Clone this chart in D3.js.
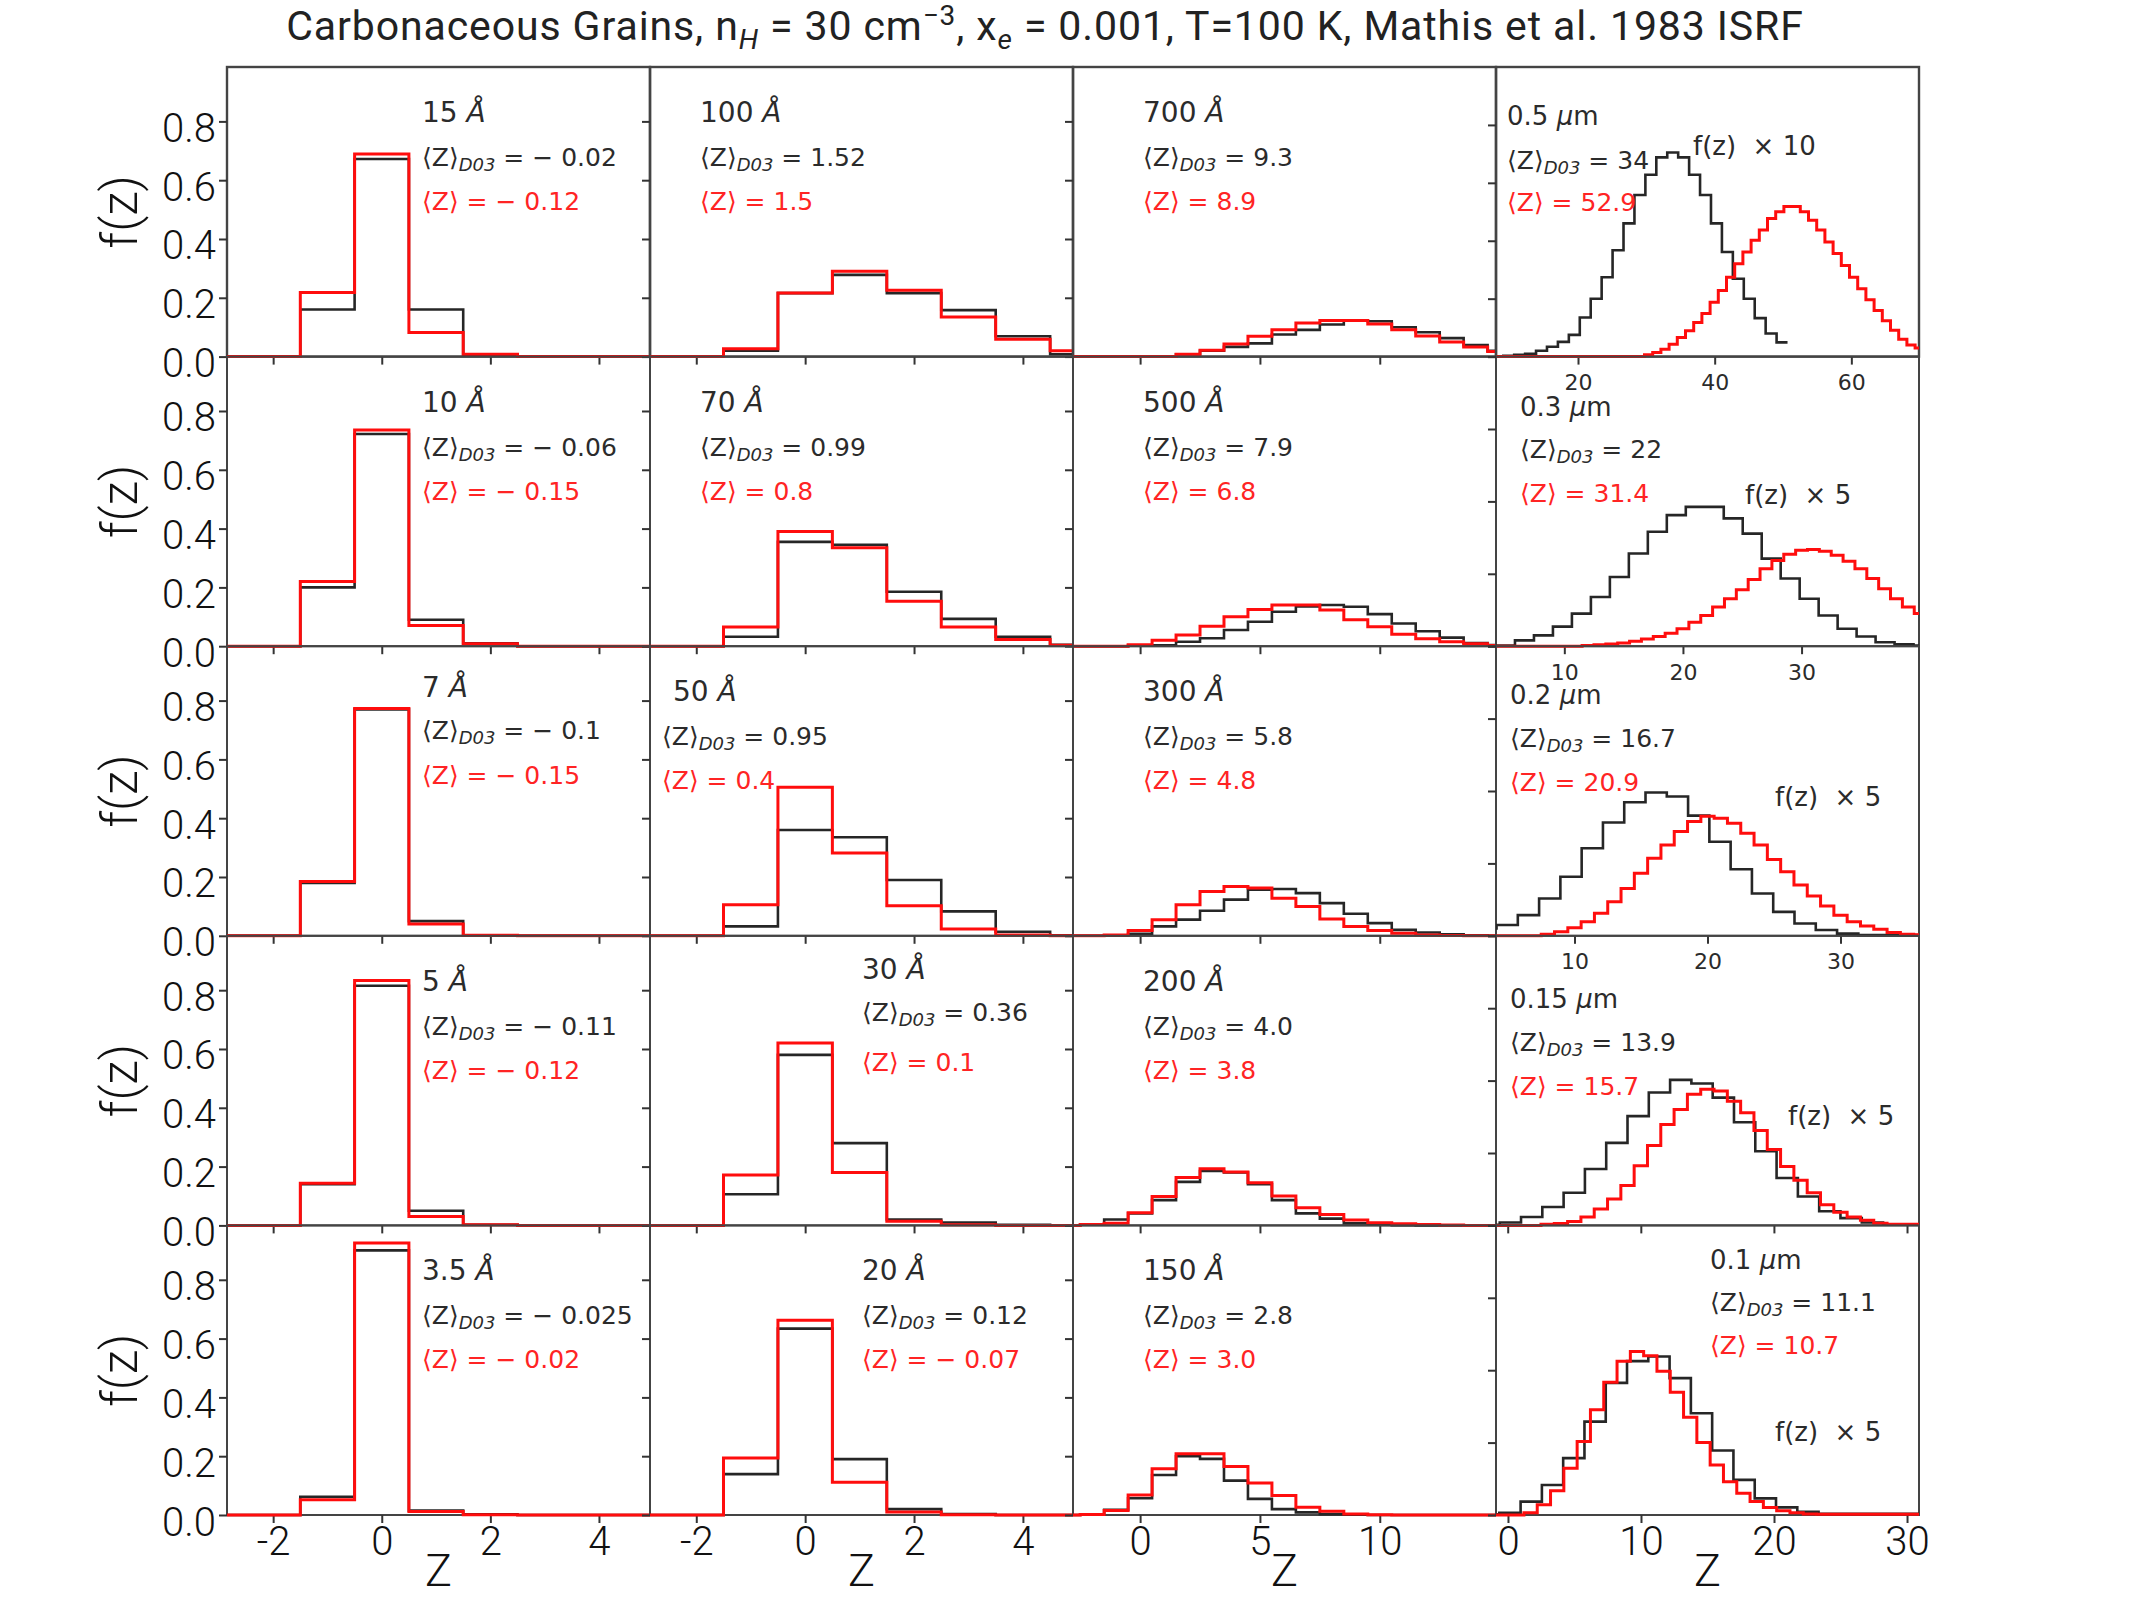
<!DOCTYPE html>
<html>
<head>
  <meta charset="UTF-8">
  <title>Carbonaceous Grains charge distributions</title>
  <script src="https://d3js.org/d3.v7.min.js"></script>
  <style>
    body { margin: 0; background: #fff; }
    text { white-space: pre; }
  </style>
</head>
<body>
<div id="chart"></div>
<script>
// ---- data, row-major (5 rows x 4 columns) ----
const grainSize = ["15", "100", "700", "0.5", "10", "70", "500", "0.3", "7", "50", "300", "0.2",
                   "5", "30", "200", "0.15", "3.5", "20", "150", "0.1"];
const meanD03 = ["− 0.02", "1.52", "9.3", "34", "− 0.06", "0.99", "7.9", "22", "− 0.1", "0.95", "5.8", "16.7",
                 "− 0.11", "0.36", "4.0", "13.9", "− 0.025", "0.12", "2.8", "11.1"];
const meanModel = ["− 0.12", "1.5", "8.9", "52.9", "− 0.15", "0.8", "6.8", "31.4", "− 0.15", "0.4", "4.8", "20.9",
                   "− 0.12", "0.1", "3.8", "15.7", "− 0.02", "− 0.07", "3.0", "10.7"];
const scaleNote = ["", "", "", "f(z)  × 10", "", "", "", "f(z)  × 5", "", "", "", "f(z)  × 5",
                   "", "", "", "f(z)  × 5", "", "", "", "f(z)  × 5"];

// histogram bins: left edge of first bin, bin width, bin heights
const d03Edge = [-3.5, -3.5, -3.5, 7.46, -3.5, -3.5, -3.5, 2.64, -3.5, -3.5, -3.5, 2.54,
                 -3.5, -3.5, -3.5, -2.2, -3.5, -3.5, -3.5, -2.25];
const d03Width = [1, 1, 1, 1.6, 1, 1, 1, 1.6, 1, 1, 1, 1.6, 1, 1, 1, 1.6, 1, 1, 1, 1.6];
const d03Values = [
  [0, 0, 0.16, 0.672, 0.16, 0.005, 0, 0, 0],
  [0, 0, 0.02, 0.216, 0.278, 0.216, 0.158, 0.069, 0.008],
  [0, 0, 0, 0, 0, 0.008, 0.02, 0.033, 0.045, 0.075, 0.091, 0.109, 0.123, 0.12, 0.1, 0.083, 0.063, 0.039, 0.02],
  [0.001, 0.003, 0.006, 0.01, 0.02, 0.034, 0.051, 0.075, 0.135, 0.2, 0.274, 0.367, 0.46, 0.558, 0.628, 0.688,
   0.705, 0.688, 0.628, 0.558, 0.46, 0.361, 0.269, 0.2, 0.133, 0.08, 0.049],
  [0, 0, 0.2, 0.722, 0.09, 0.01, 0, 0, 0],
  [0, 0, 0.032, 0.355, 0.345, 0.185, 0.093, 0.032, 0.005],
  [0, 0, 0, 0.002, 0.003, 0.015, 0.027, 0.055, 0.083, 0.117, 0.135, 0.14, 0.134, 0.109, 0.077, 0.051, 0.029, 0.011, 0.004],
  [0.001, 0.002, 0.016, 0.03, 0.054, 0.09, 0.136, 0.191, 0.256, 0.316, 0.362, 0.385, 0.385, 0.353, 0.311, 0.242,
   0.187, 0.131, 0.085, 0.048, 0.027, 0.011, 0.005, 0.002],
  [0, 0, 0.18, 0.77, 0.05, 0.002, 0, 0, 0],
  [0, 0, 0.032, 0.36, 0.335, 0.19, 0.083, 0.014, 0.002],
  [0, 0, 0.001, 0.007, 0.032, 0.055, 0.085, 0.123, 0.157, 0.159, 0.145, 0.111, 0.075, 0.043, 0.02, 0.011, 0.005, 0.002, 0],
  [0.02, 0.03, 0.057, 0.103, 0.163, 0.242, 0.313, 0.369, 0.396, 0.385, 0.332, 0.26, 0.184, 0.117, 0.066, 0.034,
   0.016, 0.006, 0.002, 0.002, 0.002, 0.002],
  [0, 0, 0.14, 0.815, 0.05, 0.002, 0, 0, 0],
  [0, 0, 0.106, 0.58, 0.28, 0.02, 0.01, 0.002, 0],
  [0, 0.003, 0.02, 0.041, 0.086, 0.148, 0.185, 0.18, 0.14, 0.086, 0.041, 0.023, 0.007, 0.003, 0.001, 0, 0, 0, 0],
  [0.002, 0.008, 0.023, 0.051, 0.09, 0.156, 0.228, 0.302, 0.367, 0.402, 0.392, 0.353, 0.285, 0.205, 0.131, 0.08,
   0.039, 0.02, 0.008, 0.002, 0.002],
  [0, 0, 0.062, 0.9, 0.015, 0.002, 0, 0, 0],
  [0, 0, 0.139, 0.634, 0.19, 0.02, 0.003, 0, 0],
  [0, 0.001, 0.018, 0.057, 0.136, 0.2, 0.191, 0.117, 0.055, 0.02, 0.009, 0.003, 0.001, 0, 0, 0, 0, 0, 0],
  [0.002, 0.006, 0.037, 0.083, 0.157, 0.258, 0.365, 0.425, 0.438, 0.378, 0.281, 0.178, 0.097, 0.046, 0.021, 0.009,
   0.003, 0.003, 0.003, 0.003, 0.003]
];

const modelEdge = [-3.5, -3.5, -3.5, 6.93, -3.5, -3.5, -3.5, 2.5, -3.5, -3.5, -3.5, 2.5,
                   -3.5, -3.5, -3.5, -1.5, -3.5, -3.5, -3.5, -1.8];
const modelWidth = [1, 1, 1, 1.2, 1, 1, 1, 1, 1, 1, 1, 1, 1, 1, 1, 1, 1, 1, 1, 1];
const modelValues = [
  [0, 0, 0.218, 0.689, 0.082, 0.008, 0, 0, 0],
  [0, 0, 0.027, 0.216, 0.29, 0.226, 0.135, 0.059, 0.02],
  [0, 0, 0, 0, 0, 0.008, 0.022, 0.043, 0.069, 0.091, 0.114, 0.123, 0.123, 0.111, 0.091, 0.07, 0.05, 0.033, 0.017],
  [0, 0, 0, 0, 0, 0, 0, 0, 0, 0, 0, 0, 0, 0, 0, 0, 0, 0, 0,
   0.006, 0.014, 0.025, 0.043, 0.066, 0.089, 0.118, 0.149, 0.188, 0.228, 0.274, 0.321, 0.361, 0.402, 0.437, 0.477,
   0.5, 0.518, 0.518, 0.5, 0.471, 0.437, 0.396, 0.356, 0.315, 0.274, 0.234, 0.196, 0.159, 0.124, 0.091, 0.06, 0.04, 0.03],
  [0, 0, 0.22, 0.735, 0.07, 0.008, 0, 0, 0],
  [0, 0, 0.065, 0.39, 0.335, 0.153, 0.065, 0.023, 0.003],
  [0, 0, 0, 0.005, 0.02, 0.038, 0.068, 0.1, 0.125, 0.14, 0.14, 0.123, 0.09, 0.066, 0.041, 0.025, 0.015, 0.008, 0.002],
  [0, 0, 0, 0, 0, 0, 0, 0, 0,
   0.002, 0.004, 0.006, 0.009, 0.014, 0.02, 0.027, 0.036, 0.048, 0.066, 0.085, 0.108, 0.131, 0.156, 0.184, 0.214,
   0.237, 0.254, 0.265, 0.267, 0.262, 0.251, 0.235, 0.214, 0.187, 0.159, 0.131, 0.108, 0.09],
  [0, 0, 0.185, 0.773, 0.04, 0.002, 0, 0, 0],
  [0, 0, 0.106, 0.505, 0.282, 0.102, 0.023, 0.003, 0],
  [0, 0, 0.003, 0.018, 0.055, 0.106, 0.151, 0.168, 0.163, 0.128, 0.1, 0.057, 0.032, 0.018, 0.009, 0.003, 0.001, 0, 0],
  [0, 0, 0, 0, 0,
   0.004, 0.011, 0.022, 0.039, 0.062, 0.094, 0.131, 0.173, 0.214, 0.251, 0.288, 0.316, 0.33, 0.325, 0.311, 0.283,
   0.251, 0.211, 0.177, 0.14, 0.11, 0.082, 0.057, 0.039, 0.027, 0.018, 0.009, 0.004, 0.003],
  [0, 0, 0.143, 0.833, 0.03, 0.002, 0, 0, 0],
  [0, 0, 0.171, 0.62, 0.18, 0.014, 0.002, 0, 0],
  [0, 0.003, 0.007, 0.043, 0.098, 0.163, 0.193, 0.182, 0.145, 0.1, 0.06, 0.0375, 0.018, 0.009, 0.006, 0.003, 0.001, 0, 0],
  [0, 0, 0, 0,
   0.003, 0.005, 0.011, 0.023, 0.045, 0.073, 0.11, 0.165, 0.221, 0.279, 0.32, 0.362, 0.376, 0.371, 0.343, 0.311,
   0.262, 0.21, 0.163, 0.125, 0.09, 0.057, 0.036, 0.023, 0.014, 0.006, 0.003, 0.003, 0.003],
  [0, 0, 0.052, 0.925, 0.012, 0.001, 0, 0, 0],
  [0, 0, 0.194, 0.662, 0.111, 0.01, 0.001, 0, 0],
  [0, 0.002, 0.015, 0.068, 0.157, 0.208, 0.208, 0.165, 0.109, 0.066, 0.026, 0.0125, 0.003, 0.001, 0, 0, 0, 0, 0],
  [0, 0, 0,
   0.006, 0.028, 0.067, 0.129, 0.203, 0.291, 0.367, 0.425, 0.452, 0.44, 0.397, 0.339, 0.27, 0.2, 0.138, 0.092,
   0.06, 0.037, 0.021, 0.012, 0.006, 0.003, 0.002, 0.002, 0.002, 0.002, 0.002, 0.002, 0.002, 0.002]
];

// axis ranges and ticks
const xDomainCols = [[-2.85, 4.94], [-2.85, 4.92], [-2.8, 14.85]];
const xDomainCol4 = [[8.0, 69.9], [4.24, 39.9], [4.1, 35.9], [-0.88, 30.9], [-0.9, 30.9]];
const yTopCols = 0.985;
const yTopCol4 = [1.0, 0.8, 0.8, 0.8, 0.8];
const xTicksCols = [[-2, 0, 2, 4], [-2, 0, 2, 4], [0, 5, 10]];
const xTicksCol4 = [[20, 40, 60], [10, 20, 30], [10, 20, 30], [0, 10, 20, 30], [0, 10, 20, 30]];
const yTicks = [0, 0.2, 0.4, 0.6, 0.8];

// ---- layout ----
const W = 2134, H = 1600;
const left0 = 227, top0 = 67, panelW = 423, panelH = 289.6;
const textDx = [195, 50, 70, 11, 195, 50, 70, 24, 195, 23, 70, 14, 195, 212, 70, 14, 195, 212, 70, 214];
const meanDx = [195, 50, 70, 11, 195, 50, 70, 24, 195, 12, 70, 14, 195, 212, 70, 14, 195, 212, 70, 214];
const textBase = [
  [55, 99, 143], [55, 99, 143], [55, 99, 143], [58, 102, 144],
  [55, 99, 143], [55, 99, 143], [55, 99, 143], [59, 101, 145],
  [51, 93, 138], [55, 99, 143], [55, 99, 143], [58, 101, 145],
  [55, 99, 143], [43, 85, 135], [55, 99, 143], [72, 115, 159],
  [55, 99, 143], [55, 99, 143], [55, 99, 143], [44, 86, 129]
];
const notePos = [[197, 88], [249, 147], [279, 160], [292, 189], [279, 216]];

const panelFont = "'DejaVu Sans', sans-serif";
const axisFont = "Roboto, 'Liberation Sans', sans-serif";
const darkText = "#2b2b2b", redText = "#ff2424";

const svg = d3.select("#chart").append("svg")
  .attr("width", W)
  .attr("height", H)
  .style("background", "#fff");

// title
const title = svg.append("text")
  .attr("x", 1045)
  .attr("y", 40)
  .attr("text-anchor", "middle")
  .style("font-family", axisFont)
  .style("font-size", "41px")
  .style("letter-spacing", "0.9px")
  .attr("fill", "#222");
title.append("tspan").text("Carbonaceous Grains, n");
title.append("tspan").attr("font-style", "italic").attr("font-size", "28px").attr("dy", 9).text("H");
title.append("tspan").attr("dy", -9).text(" = 30 cm");
title.append("tspan").attr("font-size", "28px").attr("dy", -15).text("−3");
title.append("tspan").attr("dy", 15).text(", x");
title.append("tspan").attr("font-style", "italic").attr("font-size", "28px").attr("dy", 9).text("e");
title.append("tspan").attr("dy", -9).text(" = 0.001, T=100 K, Mathis et al. 1983 ISRF");

const defs = svg.append("defs");

for (let r = 0; r < 5; r++) {
  for (let c = 0; c < 4; c++) {
    const i = r * 4 + c;
    const x0 = left0 + c * panelW, y0 = top0 + r * panelH;

    const x = d3.scaleLinear()
      .domain(c < 3 ? xDomainCols[c] : xDomainCol4[r])
      .range([x0, x0 + panelW]);
    const y = d3.scaleLinear()
      .domain([0, c < 3 ? yTopCols : yTopCol4[r]])
      .range([y0 + panelH, y0]);

    const g = svg.append("g").attr("class", "panel");

    defs.append("clipPath").attr("id", "clip" + i)
      .append("rect")
      .attr("x", x0).attr("y", y0 - 2)
      .attr("width", panelW).attr("height", panelH + 4);

    // frame
    g.append("rect")
      .attr("x", x0).attr("y", y0)
      .attr("width", panelW).attr("height", panelH)
      .attr("fill", "none")
      .attr("stroke", "#444")
      .attr("stroke-width", r === 0 ? 2.4 : 2);

    // y axis (ticks outward, labels only in first column)
    const yAxis = g.append("g")
      .attr("transform", "translate(" + x0 + ",0)")
      .call(d3.axisLeft(y).tickValues(yTicks).tickSize(8).tickPadding(3)
        .tickFormat(c === 0 ? d3.format(".1f") : () => ""));
    yAxis.select(".domain").remove();
    yAxis.selectAll(".tick line").attr("stroke", "#333").attr("stroke-width", 2);
    yAxis.selectAll(".tick text")
      .attr("dy", "0.5em")
      .style("font-family", axisFont)
      .style("font-weight", 300)
      .style("font-size", "40px")
      .attr("fill", "#111");

    // x axis
    const xTicks = c < 3 ? xTicksCols[c] : xTicksCol4[r];
    const bigLabels = r === 4;
    const smallLabels = c === 3 && r < 3;
    const xAxis = g.append("g")
      .attr("transform", "translate(0," + (y0 + panelH) + ")")
      .call(d3.axisBottom(x).tickValues(xTicks).tickSize(8)
        .tickPadding(bigLabels ? 4 : 10)
        .tickFormat(bigLabels || smallLabels ? d => String(d) : () => ""));
    xAxis.select(".domain").remove();
    xAxis.selectAll(".tick line").attr("stroke", "#333").attr("stroke-width", 2);
    if (bigLabels) {
      xAxis.selectAll(".tick text")
        .style("font-family", axisFont)
        .style("font-weight", 300)
        .style("font-size", "40px")
        .attr("fill", "#111");
    } else {
      xAxis.selectAll(".tick text")
        .style("font-family", panelFont)
        .style("font-size", "22px")
        .attr("fill", darkText);
    }

    // histograms
    const step = d3.line()
      .x(d => x(d[0]))
      .y(d => y(d[1]))
      .curve(d3.curveStepAfter);

    const toPoints = (edge, width, vals) => {
      const pts = vals.map((v, k) => [edge + k * width, v]);
      pts.push([edge + vals.length * width, vals[vals.length - 1]]);
      return pts;
    };

    const lines = g.append("g").attr("clip-path", "url(#clip" + i + ")");
    lines.append("path")
      .datum(toPoints(d03Edge[i], d03Width[i], d03Values[i]))
      .attr("d", step)
      .attr("fill", "none")
      .attr("stroke", "#262626")
      .attr("stroke-width", 2.6);
    lines.append("path")
      .datum(toPoints(modelEdge[i], modelWidth[i], modelValues[i]))
      .attr("d", step)
      .attr("fill", "none")
      .attr("stroke", "#ff0d0d")
      .attr("stroke-width", 3);

    // annotations
    const tb = textBase[i];
    const sizeText = g.append("text")
      .attr("x", x0 + textDx[i])
      .attr("y", y0 + tb[0])
      .style("font-family", panelFont)
      .style("font-size", (c < 3 ? 28 : 26) + "px")
      .attr("fill", darkText);
    sizeText.append("tspan").text(grainSize[i] + " ");
    if (c < 3) {
      sizeText.append("tspan").attr("font-style", "italic").text("Å");
    } else {
      sizeText.append("tspan").attr("font-style", "italic").text("μ");
      sizeText.append("tspan").text("m");
    }

    const d03Text = g.append("text")
      .attr("x", x0 + meanDx[i])
      .attr("y", y0 + tb[1])
      .style("font-family", panelFont)
      .style("font-size", "25px")
      .attr("fill", darkText);
    d03Text.append("tspan").text("⟨Z⟩");
    d03Text.append("tspan").attr("font-style", "italic").attr("font-size", "18px").attr("dy", 5).text("D03");
    d03Text.append("tspan").attr("dy", -5).text(" = " + meanD03[i]);

    g.append("text")
      .attr("x", x0 + meanDx[i])
      .attr("y", y0 + tb[2])
      .style("font-family", panelFont)
      .style("font-size", "25px")
      .attr("fill", redText)
      .text("⟨Z⟩ = " + meanModel[i]);

    if (scaleNote[i]) {
      g.append("text")
        .attr("x", x0 + notePos[r][0])
        .attr("y", y0 + notePos[r][1])
        .style("font-family", panelFont)
        .style("font-size", "26px")
        .attr("fill", darkText)
        .text(scaleNote[i]);
    }
  }

  // row label
  svg.append("text")
    .attr("transform", "translate(119," + (top0 + r * panelH + panelH / 2) + ") rotate(-90)")
    .attr("text-anchor", "middle")
    .attr("dy", "0.35em")
    .style("font-family", axisFont)
    .style("font-weight", 300)
    .style("font-size", "50px")
    .attr("fill", "#111")
    .text("f(z)");
}

// column labels
for (let c = 0; c < 4; c++) {
  svg.append("text")
    .attr("x", left0 + c * panelW + panelW / 2)
    .attr("y", 1586)
    .attr("text-anchor", "middle")
    .style("font-family", axisFont)
    .style("font-weight", 300)
    .style("font-size", "45px")
    .attr("fill", "#111")
    .text("Z");
}
</script>
</body>
</html>
